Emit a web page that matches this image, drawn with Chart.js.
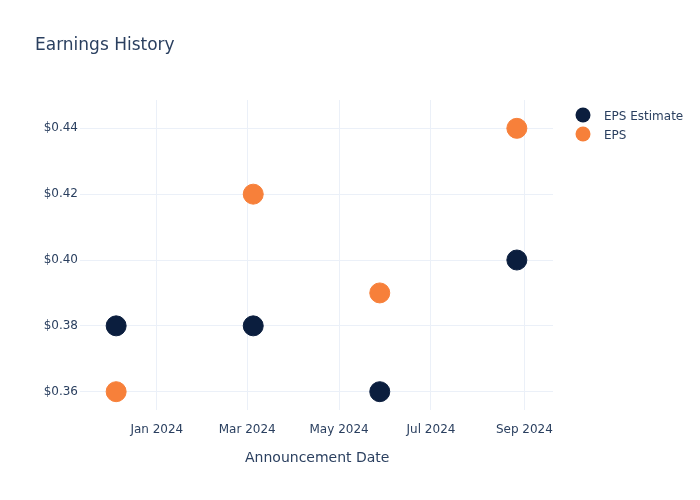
<!DOCTYPE html>
<html>
<head>
<meta charset="utf-8">
<script src="https://cdn.jsdelivr.net/npm/chart.js@4"></script>
<style>
  html, body { margin: 0; padding: 0; background: #fff; }
  #wrap { width: 700px; height: 500px; }
</style>
</head>
<body>
<div id="wrap"><canvas id="earningsChart" width="700" height="500"></canvas></div>
<script>
// Earnings history scatter, rebuilt from the reference picture

const announceDates = ['2023-12-05', '2024-03-05', '2024-05-28', '2024-08-27'];
const epsEstimate = [0.38, 0.38, 0.36, 0.40];
const epsActual = [0.36, 0.42, 0.39, 0.44];

const xTickDates = ['2024-01-01', '2024-03-01', '2024-05-01', '2024-07-01', '2024-09-01'];
const xTickLabels = ['Jan 2024', 'Mar 2024', 'May 2024', 'Jul 2024', 'Sep 2024'];
const yTickValues = [0.36, 0.38, 0.40, 0.42, 0.44];

const seriesNames = ['EPS Estimate', 'EPS'];
const seriesColors = ['#0b1e3e', '#f7803a'];

const FONT = '"DejaVu Sans", "Open Sans", sans-serif';
const TEXT = '#2a3f5f';
const GRID = '#ebf0f8';

const toTime = s => Date.parse(s + 'T00:00:00Z');

// Title, x axis title and legend drawn like the original layout
const decorations = {
    id: 'decorations',
    afterDraw(chart) {
        const ctx = chart.ctx;
        ctx.save();
        ctx.fillStyle = TEXT;
        ctx.textBaseline = 'alphabetic';

        ctx.font = '17px ' + FONT;
        ctx.textAlign = 'left';
        ctx.fillText('Earnings History', 35, 50);

        ctx.font = '14px ' + FONT;
        ctx.fillText('Announcement Date', 245, 461.5);

        ctx.font = '12px ' + FONT;
        seriesNames.forEach((name, i) => {
            const y = 115 + i * 19;
            ctx.beginPath();
            ctx.arc(583, y, 7.5, 0, Math.PI * 2);
            ctx.fillStyle = seriesColors[i];
            ctx.fill();
            ctx.fillStyle = TEXT;
            ctx.fillText(name, 604, y + 4.5);
        });
        ctx.restore();
    }
};

const ctx = document.getElementById('earningsChart').getContext('2d');

new Chart(ctx, {
    type: 'scatter',
    data: {
        datasets: [
            {
                label: seriesNames[0],
                data: announceDates.map((d, i) => ({ x: toTime(d), y: epsEstimate[i] })),
                backgroundColor: seriesColors[0],
                borderColor: seriesColors[0],
                pointRadius: 10,
                pointHoverRadius: 10,
                order: 2
            },
            {
                label: seriesNames[1],
                data: announceDates.map((d, i) => ({ x: toTime(d), y: epsActual[i] })),
                backgroundColor: seriesColors[1],
                borderColor: seriesColors[1],
                pointRadius: 10,
                pointHoverRadius: 10,
                order: 1
            }
        ]
    },
    options: {
        responsive: false,
        animation: false,
        layout: {
            padding: { top: 100, right: 147, bottom: 0, left: 0 }
        },
        plugins: {
            legend: { display: false },
            title: { display: false },
            tooltip: { enabled: false }
        },
        scales: {
            x: {
                type: 'linear',
                min: toTime('2023-11-11'),
                max: toTime('2024-09-20'),
                afterBuildTicks: axis => {
                    axis.ticks = xTickDates.map(d => ({ value: toTime(d) }));
                },
                afterFit: axis => { axis.height = 90; },
                border: { display: false },
                grid: { color: GRID, drawTicks: false, lineWidth: 1 },
                ticks: {
                    padding: 13,
                    color: TEXT,
                    font: { family: FONT, size: 12 },
                    maxRotation: 0,
                    autoSkip: false,
                    callback: value => {
                        const idx = xTickDates.findIndex(d => toTime(d) === value);
                        return idx >= 0 ? xTickLabels[idx] : '';
                    }
                }
            },
            y: {
                min: 0.35444,
                max: 0.4486,
                afterBuildTicks: axis => {
                    axis.ticks = yTickValues.map(v => ({ value: v }));
                },
                afterFit: axis => { axis.width = 80; },
                border: { display: false },
                grid: { color: GRID, drawTicks: false, lineWidth: 1 },
                ticks: {
                    padding: 2,
                    color: TEXT,
                    font: { family: FONT, size: 12 },
                    callback: value => '$' + Number(value).toFixed(2)
                }
            }
        }
    },
    plugins: [decorations]
});
</script>
</body>
</html>
